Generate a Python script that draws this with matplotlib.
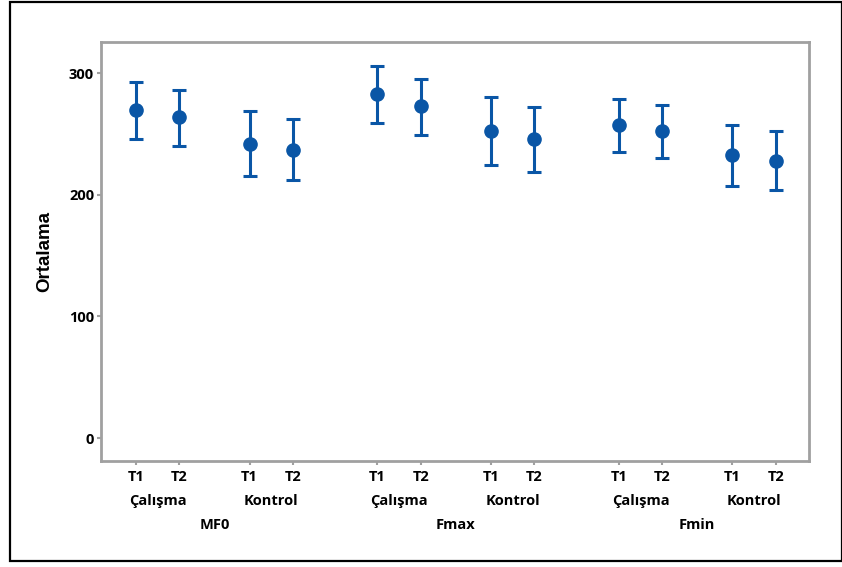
import numpy as np
import matplotlib
matplotlib.use("Agg")
import matplotlib.pyplot as plt
from matplotlib.patches import Rectangle

plt.rcParams['font.family'] = ['Open Sans', 'DejaVu Sans']

# veri
variables = ['MF0', 'Fmax', 'Fmin']
groups = ['Çalışma', 'Kontrol']
times = ['T1', 'T2']
means = [270, 264, 242, 237, 283, 273, 252, 246, 257, 252, 233, 228]
upper = [293, 286, 269, 262, 306, 295, 280, 272, 279, 274, 257, 252]
lower = [246, 240, 215, 212, 259, 249, 224, 219, 235, 230, 207, 204]
yticks = [0, 100, 200, 300]

blue = '#0a56a6'
gray = '#a0a0a0'
fs = 10.5

# x konumlari: cift ici 1, gruplar arasi 1.62, degiskenler arasi 1.95
pos = []
x = 0.0
for vi in range(len(variables)):
    for gi in range(len(groups)):
        for ti in range(len(times)):
            pos.append(x)
            x += 1.0
        x += 0.62 if gi == 0 else 0.95
pos = np.array(pos)

fig = plt.figure(figsize=(8.42, 5.67), dpi=100)
ax = fig.add_axes([101/842, 1 - 461/567, (809-101)/842, (461-42)/567])

means = np.array(means)
yerr = [means - np.array(lower), np.array(upper) - means]
ax.errorbar(pos, means, yerr=yerr, fmt='o', color=blue, ms=9.5, elinewidth=2.2,
            capsize=5, capthick=2.2)

ax.set_xlim(-0.81, 15.53)
ax.set_ylim(-18.9, 325.5)
ax.set_yticks(yticks)
ax.set_yticklabels([str(v) for v in yticks], fontsize=fs, fontweight='bold')
ax.set_xticks(pos)
ax.set_xticklabels([])
ax.tick_params(length=3, width=1.5, color=gray, pad=2)
for s in ax.spines.values():
    s.set_color(gray)
    s.set_linewidth(2)

# kategori etiketleri (3 seviye)
tr = ('data', 'axes fraction')
for i, p in enumerate(pos):
    ax.annotate(times[i % 2], (p, 0), xycoords=tr, xytext=(0, -11.5),
                textcoords='offset points', ha='center', va='center',
                fontsize=fs, fontweight='bold')
for k in range(6):
    c = (pos[2*k] + pos[2*k+1]) / 2
    ax.annotate(groups[k % 2], (c, 0), xycoords=tr, xytext=(0, -28.8),
                textcoords='offset points', ha='center', va='center',
                fontsize=fs, fontweight='bold')
for v in range(3):
    c = (pos[4*v] + pos[4*v+3]) / 2
    ax.annotate(variables[v], (c, 0), xycoords=tr, xytext=(0, -46),
                textcoords='offset points', ha='center', va='center',
                fontsize=fs, fontweight='bold')

fig.text(45/842, 1 - 251/567, 'Ortalama', rotation=90, ha='center', va='center',
         fontsize=13.5, fontweight='bold', fontfamily='Liberation Sans')

# dis cerceve
fig.patches.append(Rectangle((10/842, 1 - 561/567), 832/842, 559/567,
                             transform=fig.transFigure, fill=False,
                             edgecolor='black', linewidth=1.6))

fig.savefig('out.png', dpi=100)
